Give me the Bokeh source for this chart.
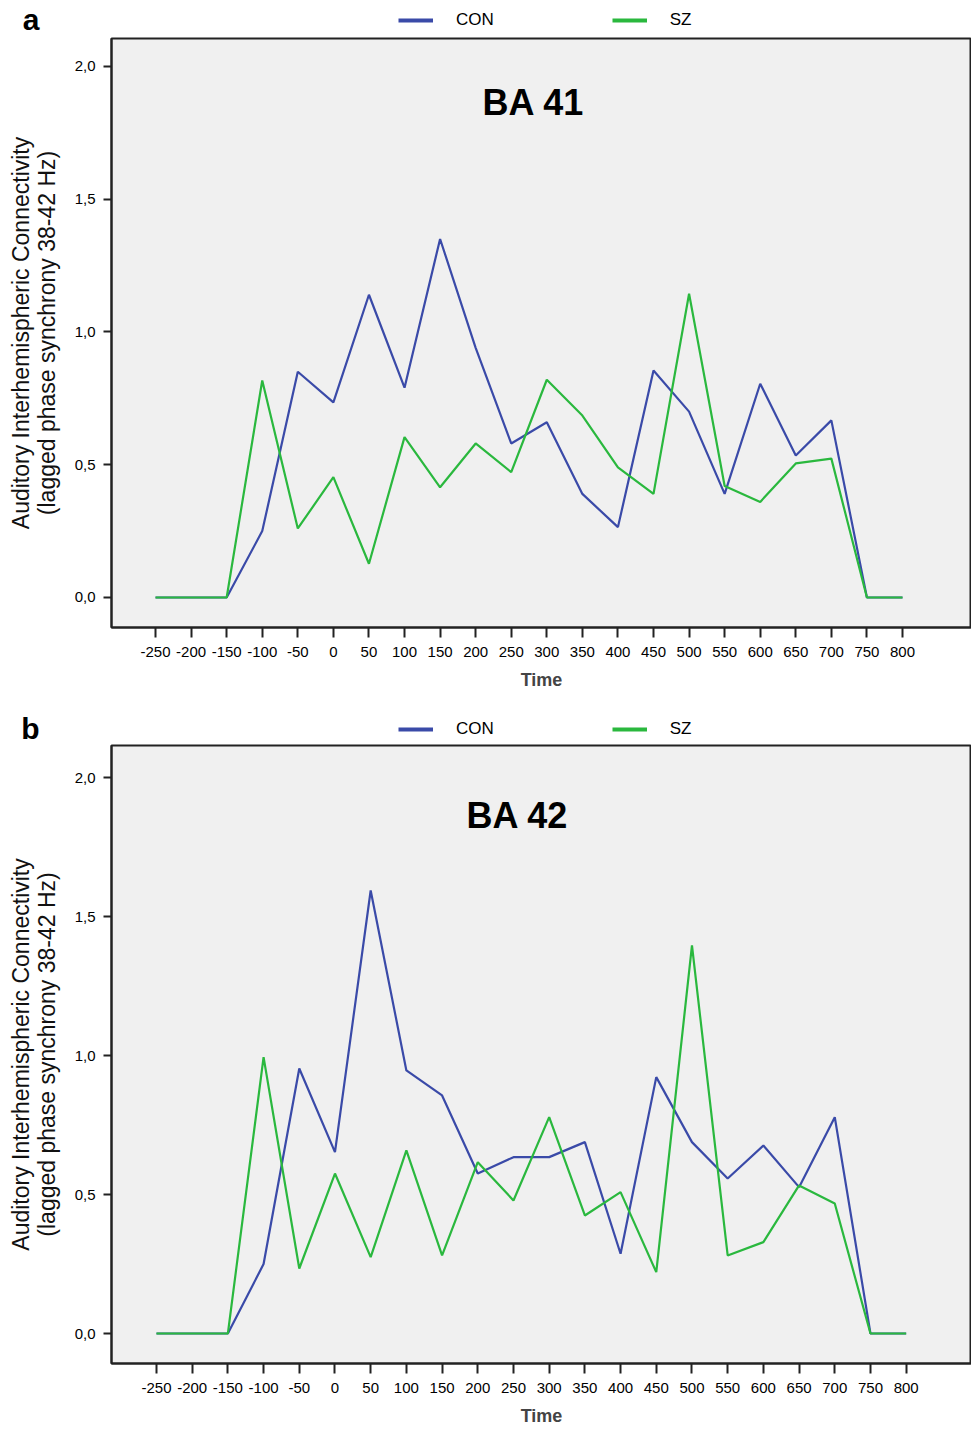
import numpy as np
from bokeh.plotting import figure
from bokeh.models import Label, Legend, LegendItem, FixedTicker, CustomJSTickFormatter, Range1d
from bokeh.layouts import column
from bokeh.embed import file_html
from bokeh.resources import INLINE

# ---------------- data ----------------
time = [-250, -200, -150, -100, -50, 0, 50, 100, 150, 200, 250,
        300, 350, 400, 450, 500, 550, 600, 650, 700, 750, 800]

con_a = [0.0, 0.0, 0.0, 0.25, 0.85, 0.735, 1.14, 0.79, 1.35, 0.94, 0.58,
         0.66, 0.39, 0.265, 0.855, 0.70, 0.39, 0.805, 0.535, 0.667, 0.0, 0.0]
sz_a = [0.0, 0.0, 0.0, 0.817, 0.26, 0.453, 0.127, 0.604, 0.415, 0.58, 0.472,
        0.82, 0.685, 0.49, 0.39, 1.144, 0.42, 0.36, 0.505, 0.523, 0.0, 0.0]

con_b = [0.0, 0.0, 0.0, 0.25, 0.954, 0.653, 1.595, 0.947, 0.857, 0.576, 0.635,
         0.635, 0.689, 0.287, 0.923, 0.689, 0.558, 0.677, 0.527, 0.779, 0.0, 0.0]
sz_b = [0.0, 0.0, 0.0, 0.995, 0.234, 0.576, 0.275, 0.659, 0.281, 0.617, 0.479,
        0.779, 0.425, 0.509, 0.221, 1.397, 0.281, 0.329, 0.533, 0.468, 0.0, 0.0]

y_ticks = [0.0, 0.5, 1.0, 1.5, 2.0]
series_names = ["CON", "SZ"]
panel_letters = ["a", "b"]
panel_titles = ["BA 41", "BA 42"]
y_label = "Auditory Interhemispheric Connectivity\n(lagged phase synchrony 38-42 Hz)"
x_label = "Time"

BLUE = "#3a4aa8"
GREEN = "#2ab83e"
NARROW = "'Liberation Sans Narrow', 'Liberation Sans', Arial, sans-serif"
ARIAL = "'Liberation Sans', Arial, sans-serif"
W = 971


def make_header(letter, height, border_top, legend_y):
    h = figure(width=W, height=height, output_backend="svg", toolbar_location=None,
               x_range=Range1d(0, 1), y_range=Range1d(0, 1),
               min_border_left=111, min_border_right=0,
               min_border_top=border_top, min_border_bottom=0)
    h.xaxis.visible = False
    h.grid.visible = False
    h.outline_line_color = None
    h.background_fill_color = "white"
    h.border_fill_color = "white"
    ya = h.yaxis[0]
    ya.ticker = FixedTicker(ticks=[])
    ya.major_label_text_font_size = "0px"
    ya.axis_line_color = None
    ya.major_tick_line_color = None
    ya.minor_tick_line_color = None
    ya.axis_label = letter
    ya.axis_label_orientation = "horizontal"
    ya.axis_label_text_font = ARIAL
    ya.axis_label_text_font_style = "bold"
    ya.axis_label_text_font_size = "30px"
    ya.axis_label_text_color = "black"
    ya.axis_label_standoff = 72

    # legend swatches (no visible data, styled thicker like the reference key)
    l_con = h.line([np.nan], [np.nan], line_color=BLUE, line_width=4)
    l_sz = h.line([np.nan], [np.nan], line_color=GREEN, line_width=4)
    legend = Legend(items=[LegendItem(label=series_names[0], renderers=[l_con]),
                           LegendItem(label=series_names[1], renderers=[l_sz])],
                    orientation="horizontal", location=(287, legend_y),
                    glyph_width=35, glyph_height=16, label_standoff=23, spacing=118,
                    padding=0, margin=0, border_line_alpha=0, background_fill_alpha=0,
                    label_text_font=NARROW, label_text_font_size="17px",
                    label_height=18, label_text_color="black")
    h.add_layout(legend, "center")
    return h


def make_panel(con, sz, title, height, border_bottom, xr, yr, title_pos):
    p = figure(width=W, height=height, output_backend="svg", toolbar_location=None,
               x_range=Range1d(*xr), y_range=Range1d(*yr),
               min_border_left=111, min_border_right=0,
               min_border_top=1, min_border_bottom=border_bottom)
    p.background_fill_color = "#f0f0f0"
    p.border_fill_color = "white"
    p.outline_line_color = "#222222"
    p.outline_line_width = 2
    p.grid.visible = False

    p.line(time, con, line_color=BLUE, line_width=2.2)
    p.line(time, sz, line_color=GREEN, line_width=2.2)

    # x axis
    xa = p.xaxis[0]
    xa.ticker = FixedTicker(ticks=time)
    xa.formatter = CustomJSTickFormatter(code="return String(tick);")
    xa.axis_label = x_label
    xa.axis_label_text_font = ARIAL
    xa.axis_label_text_font_style = "bold"
    xa.axis_label_text_font_size = "18px"
    xa.axis_label_standoff = 10
    xa.major_label_text_font = NARROW
    xa.major_label_text_font_size = "15px"
    xa.major_label_standoff = 9
    xa.major_tick_out = 10
    xa.major_tick_in = 0
    xa.minor_tick_out = 0
    xa.minor_tick_in = 0
    xa.axis_line_width = 2
    xa.axis_line_color = "#222222"
    xa.major_tick_line_width = 2
    xa.major_tick_line_color = "#222222"
    xa.major_label_text_color = "black"

    # y axis
    ya = p.yaxis[0]
    ya.ticker = FixedTicker(ticks=y_ticks)
    ya.formatter = CustomJSTickFormatter(code="return tick.toFixed(1).replace('.', ',');")
    ya.axis_label = y_label
    ya.axis_label_text_font = ARIAL
    ya.axis_label_text_font_style = "normal"
    ya.axis_label_text_font_size = "23px"
    ya.axis_label_text_line_height = 1.0
    ya.axis_label_text_color = "#111111"
    ya.axis_label_standoff = 12
    ya.major_label_text_font = ARIAL
    ya.major_label_text_font_size = "15px"
    ya.major_label_standoff = 8
    ya.major_tick_out = 8
    ya.major_tick_in = 0
    ya.minor_tick_out = 0
    ya.minor_tick_in = 0
    ya.axis_line_width = 2
    ya.axis_line_color = "#222222"
    ya.major_tick_line_width = 2
    ya.major_tick_line_color = "#222222"
    ya.major_label_text_color = "black"

    p.add_layout(Label(x=title_pos[0], y=title_pos[1], x_units="screen", y_units="screen",
                       text=title, text_font=ARIAL, text_font_style="bold", text_color="black",
                       text_font_size="36px", text_align="center", text_baseline="middle"))
    return p


ha = make_header(panel_letters[0], height=37, border_top=0, legend_y=7)
pa = make_panel(con_a, sz_a, panel_titles[0], height=663, border_bottom=73,
                xr=(-311.9, 897.0), yr=(-0.113, 2.105), title_pos=(422, 525))
hb = make_header(panel_letters[1], height=44, border_top=12, legend_y=5)
pb = make_panel(con_b, sz_b, panel_titles[1], height=685, border_bottom=66,
                xr=(-313.0, 891.5), yr=(-0.108, 2.117), title_pos=(406, 548))

layout = column(ha, pa, hb, pb, spacing=0)
open("out.html", "w").write(file_html(layout, INLINE))
